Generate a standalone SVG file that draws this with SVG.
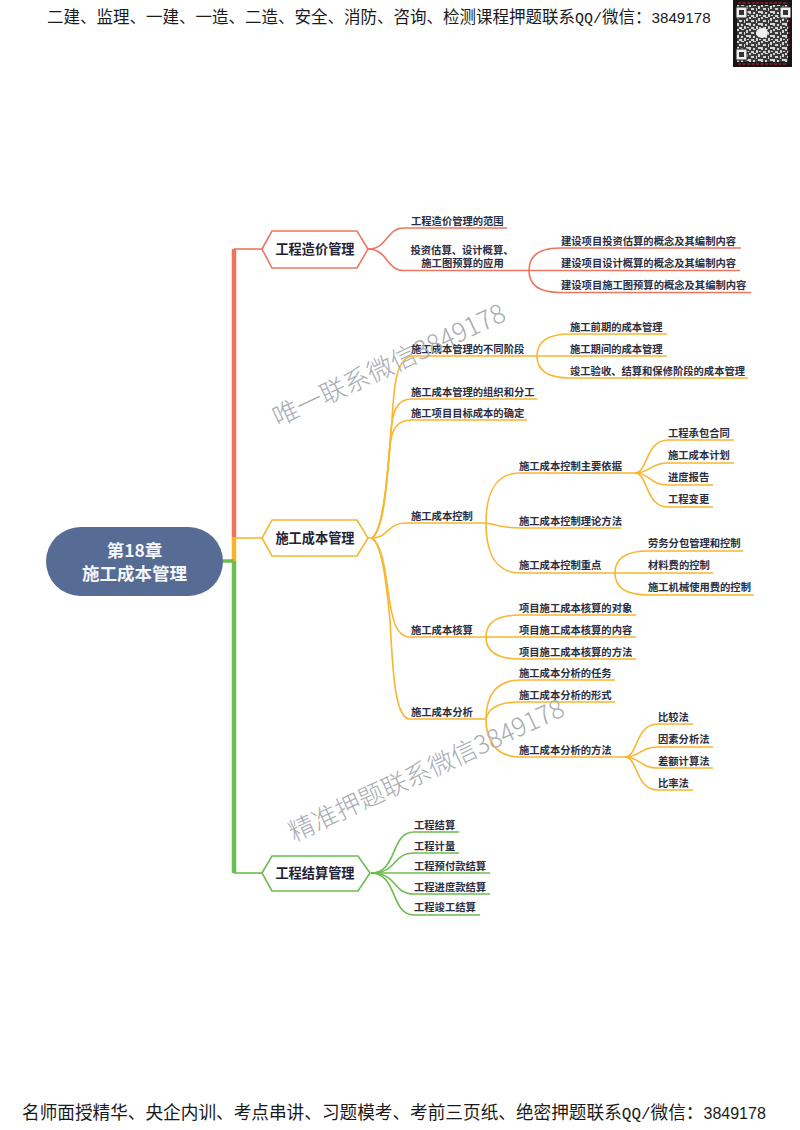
<svg xmlns="http://www.w3.org/2000/svg" width="800" height="1130" viewBox="0 0 800 1130">
<style>
text{font-family:"Noto Sans CJK SC","Noto Sans",sans-serif}
.l{font-size:10.3px;font-weight:700;fill:#2b2e42}
.h{font-size:13.2px;font-weight:700;fill:#1f2236;text-anchor:middle}
.r{font-size:17.5px;font-weight:700;fill:#f4f6f9;text-anchor:middle}
.b{fill:#1a1a1a}
.m{font-family:"Liberation Mono",monospace}
.d{font-family:"Liberation Sans",sans-serif}
.w{font-weight:300;fill:#a9acb3}
.hex{fill:#fff;stroke-width:1.6}
.c{fill:none;stroke-width:1.6}
.red{stroke:#ee7561}.org{stroke:#f9b62f}.grn{stroke:#6cbd50}
</style>
<defs>
<pattern id="qr" width="12" height="12" patternUnits="userSpaceOnUse" x="737" y="5">
<rect width="12" height="12" fill="#3a3a3a"/>
<path d="M0 0h2v2H0zM4 0h3v1H4zM9 1h2v3H9zM2 3h3v2H2zM7 3h1v3H7zM0 6h2v3H0zM4 7h2v2H4zM9 6h3v2H9zM7 9h2v3H7zM2 10h3v2H2zM10 10h2v1h-2z" fill="#d4d4d4"/>
</pattern>
</defs>
<g id="qrcode">
<rect x="733" y="0" width="59" height="67" fill="#161616"/>
<rect x="737" y="5" width="51" height="57" fill="url(#qr)"/>
<path d="M738 3H788M738 64H788" stroke="#7a1a22" stroke-width="2" stroke-dasharray="3 1.5" fill="none"/>
<path d="M789 14V54" stroke="#7a1a22" stroke-width="2" stroke-dasharray="2 4" fill="none"/>
<g fill="#eee" stroke="#222"><rect x="736" y="7" width="11" height="11"/><rect x="780" y="7" width="11" height="11"/><rect x="736" y="49" width="11" height="11"/></g>
<g fill="#333"><rect x="739" y="10" width="5" height="5"/><rect x="783" y="10" width="5" height="5"/><rect x="739" y="52" width="5" height="5"/></g>
<ellipse cx="762" cy="33" rx="6" ry="5" fill="#eee"/>
</g>
<text class="b" x="47" y="23" font-size="16.5">二建、监理、一建、一造、二造、安全、消防、咨询、检测课程押题联系<tspan class="m" font-size="15">QQ/</tspan>微信：<tspan class="d" font-size="15.2">3849178</tspan></text>
<text class="b" x="22" y="1119" font-size="17.65">名师面授精华、央企内训、考点串讲、习题模考、考前三页纸、绝密押题联系<tspan class="m" font-size="16">QQ/</tspan>微信：<tspan class="d" font-size="16">3849178</tspan></text>
<g id="connectors">
<path d="M234 249V537" stroke="#f0735f" stroke-width="4.500" fill="none"/>
<path d="M234 537V561" stroke="#f9b42c" stroke-width="4.500" fill="none"/>
<path d="M234 561V873" stroke="#6bbe50" stroke-width="4.500" fill="none"/>
<path d="M223 561H234" stroke="#6bbe50" stroke-width="3.500" fill="none"/>
<path class="c red" d="M234 249H262"/>
<path class="c org" d="M234 538H262"/>
<path class="c grn" d="M234 873H262"/>
<g class="c red">
<path d="M368 249C388 249 386 228 404 228H507"/>
<path d="M368 249C388 249 386 270.500 404 270.500H529"/>
<path d="M529 270.500C529 255 540 248 560 248H741"/>
<path d="M529 270.500H740"/>
<path d="M529 270.500C529 285 540 292.500 560 292.500H751"/>
</g>
<g class="c org">
<path d="M368 538H372C384 530 388 470 392 420C394 385 396 356 414 356H537"/>
<path d="M372 538C384 530 388 470 391 430C393 412 396 399 412 399H537"/>
<path d="M372 538C384 530 387 480 390 445C392 430 396 420 412 420H527"/>
<path d="M372 538C388 538 388 523 405 523H486"/>
<path d="M372 538C382 545 385 570 388 590C392 620 396 637 410 637H486"/>
<path d="M372 538C382 545 386 580 390 620C393 680 396 719 410 719H486"/>
<path d="M537 356C537 341 548 334 570 334H667"/>
<path d="M537 356H667"/>
<path d="M537 356C537 371 548 378 570 378H748"/>
<path d="M486 523C486 490 498 473 520 473H635"/>
<path d="M486 523C496 524 500 528 520 528H621"/>
<path d="M486 523C486 556 498 573 520 573H615"/>
<path d="M635 473C648 473 645 440 668 440H734"/>
<path d="M635 473C650 473 650 463 668 463H734"/>
<path d="M635 473C650 473 650 485 668 485H713"/>
<path d="M635 473C648 473 645 507 668 507H713"/>
<path d="M615 573C615 558 626 551 648 551H743"/>
<path d="M615 573H713"/>
<path d="M615 573C615 588 626 595 648 595H754"/>
<path d="M486 637C486 622 497 615 520 615H636"/>
<path d="M486 637H636"/>
<path d="M486 637C486 652 497 659 520 659H636"/>
<path d="M486 719C486 695 497 680 520 680H615"/>
<path d="M486 719C488 710 497 702 520 702H615"/>
<path d="M486 719C486 742 497 757 520 757H625"/>
<path d="M625 757C638 757 635 724 658 724H693"/>
<path d="M625 757C640 757 640 747 658 747H713"/>
<path d="M625 757C640 757 640 768 658 768H713"/>
<path d="M625 757C638 757 635 790 658 790H693"/>
</g>
<g class="c grn">
<path d="M371 873C398 873 390 832 414 832H459"/>
<path d="M371 873C398 873 392 853 414 853H459"/>
<path d="M371 873H490"/>
<path d="M371 873C398 873 392 894 414 894H490"/>
<path d="M371 873C398 873 390 915 414 915H480"/>
</g>
</g>
<g id="root"><rect x="46" y="527" width="177" height="69" rx="34.500" fill="#566c94"/><text class="r" x="134.500" y="556.500">第18章</text><text class="r" x="134.500" y="580">施工成本管理</text></g>
<g id="n1"><polygon class="hex red" points="262,249 272,231 357,231 368,249 357,268 272,268"/><text class="h" x="315" y="254">工程造价管理</text></g>
<g id="n2"><polygon class="hex org" points="262,538 272,520 357,520 368,538 357,556 272,556"/><text class="h" x="315" y="543">施工成本管理</text></g>
<g id="n3"><polygon class="hex grn" points="262,873 272,856 358,856 370,873 358,891 272,891"/><text class="h" x="315" y="878">工程结算管理</text></g>
<g id="n1-1"><text class="l" x="411" y="224.500">工程造价管理的范围</text></g>
<g id="n1-2"><text class="l" x="462" y="253.500" text-anchor="middle">投资估算、设计概算、</text><text class="l" x="462.500" y="266.500" text-anchor="middle">施工图预算的应用</text></g>
<g id="n1-2-1"><text class="l" x="561" y="245">建设项目投资估算的概念及其编制内容</text></g>
<g id="n1-2-2"><text class="l" x="561" y="267">建设项目设计概算的概念及其编制内容</text></g>
<g id="n1-2-3"><text class="l" x="561" y="289">建设项目施工图预算的概念及其编制内容</text></g>
<g id="n2-1"><text class="l" x="411" y="353">施工成本管理的不同阶段</text></g>
<g id="n2-1-1"><text class="l" x="570" y="331">施工前期的成本管理</text></g>
<g id="n2-1-2"><text class="l" x="570" y="353">施工期间的成本管理</text></g>
<g id="n2-1-3"><text class="l" x="570" y="375">竣工验收、结算和保修阶段的成本管理</text></g>
<g id="n2-2"><text class="l" x="411" y="395.500">施工成本管理的组织和分工</text></g>
<g id="n2-3"><text class="l" x="411" y="416.500">施工项目目标成本的确定</text></g>
<g id="n2-4"><text class="l" x="411" y="520">施工成本控制</text></g>
<g id="n2-4-1"><text class="l" x="519" y="470">施工成本控制主要依据</text></g>
<g id="n2-4-1-1"><text class="l" x="668" y="437">工程承包合同</text></g>
<g id="n2-4-1-2"><text class="l" x="668" y="459">施工成本计划</text></g>
<g id="n2-4-1-3"><text class="l" x="668" y="481">进度报告</text></g>
<g id="n2-4-1-4"><text class="l" x="668" y="503">工程变更</text></g>
<g id="n2-4-2"><text class="l" x="519" y="525">施工成本控制理论方法</text></g>
<g id="n2-4-3"><text class="l" x="519" y="569">施工成本控制重点</text></g>
<g id="n2-4-3-1"><text class="l" x="648" y="547">劳务分包管理和控制</text></g>
<g id="n2-4-3-2"><text class="l" x="648" y="569">材料费的控制</text></g>
<g id="n2-4-3-3"><text class="l" x="648" y="591">施工机械使用费的控制</text></g>
<g id="n2-5"><text class="l" x="411" y="634">施工成本核算</text></g>
<g id="n2-5-1"><text class="l" x="519" y="612">项目施工成本核算的对象</text></g>
<g id="n2-5-2"><text class="l" x="519" y="634">项目施工成本核算的内容</text></g>
<g id="n2-5-3"><text class="l" x="519" y="656">项目施工成本核算的方法</text></g>
<g id="n2-6"><text class="l" x="411" y="715.500">施工成本分析</text></g>
<g id="n2-6-1"><text class="l" x="519" y="677">施工成本分析的任务</text></g>
<g id="n2-6-2"><text class="l" x="519" y="699">施工成本分析的形式</text></g>
<g id="n2-6-3"><text class="l" x="519" y="754">施工成本分析的方法</text></g>
<g id="n2-6-3-1"><text class="l" x="658" y="721">比较法</text></g>
<g id="n2-6-3-2"><text class="l" x="658" y="743">因素分析法</text></g>
<g id="n2-6-3-3"><text class="l" x="658" y="765">差额计算法</text></g>
<g id="n2-6-3-4"><text class="l" x="658" y="787">比率法</text></g>
<g id="n3-1"><text class="l" x="414" y="829">工程结算</text></g>
<g id="n3-2"><text class="l" x="414" y="850">工程计量</text></g>
<g id="n3-3"><text class="l" x="414" y="870">工程预付款结算</text></g>
<g id="n3-4"><text class="l" x="414" y="891">工程进度款结算</text></g>
<g id="n3-5"><text class="l" x="414" y="911">工程竣工结算</text></g>
<text class="w" font-size="26" transform="translate(278 427) rotate(-25)">唯一联系微信3849178</text>
<text class="w" font-size="25.6" transform="translate(294 842) rotate(-25)">精准押题联系微信3849178</text>
</svg>
